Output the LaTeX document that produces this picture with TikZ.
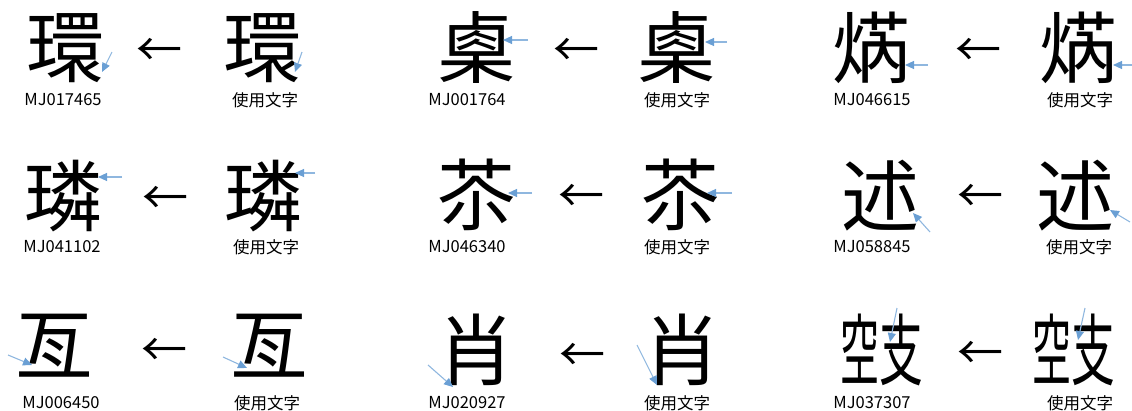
\documentclass[tikz,border=0pt]{standalone}
\usepackage{fontspec}
\setmainfont{Noto Sans CJK JP}
\usetikzlibrary{arrows.meta}
\definecolor{pointer}{HTML}{6A9FD4}

\begin{document}
\begin{tikzpicture}[x=1pt, y=-1pt]
\tikzstyle{every node} = [inner sep=0pt, outer sep=0pt]
\tikzset{moji/.style={font=\fontsize{78}{78}\selectfont},
  ya/.style={font=\fontsize{46}{46}\selectfont},
  code/.style={font=\fontsize{16.5}{16.5}\selectfont},
  pointer/.style={draw=pointer!75, line width=1.1pt, -{Triangle[length=9pt,width=8pt,color=pointer]}}}
\useasboundingbox (0,0) rectangle (1132,410);
% row 1
\node[moji] (a1) at (65,48) {環};
\node[ya] (b1) at (159,52) {←};
\node[moji] (c1) at (262,48) {環};
\node[code] (la1) at (63,100) {MJ017465};
\node[code] (lc1) at (265,100) {使用文字};
\node[moji] (a2) at (476,48) {㮚};
\node[ya] (b2) at (576,52) {←};
\node[moji] (c2) at (676,48) {㮚};
\node[code] (la2) at (467,100) {MJ001764};
\node[code] (lc2) at (677,100) {使用文字};
\node[moji] (a3) at (871,48) {焫};
\node[ya] (b3) at (978,52) {←};
\node[moji] (c3) at (1078,48) {焫};
\node[code] (la3) at (872,100) {MJ046615};
\node[code] (lc3) at (1080,100) {使用文字};
% row 2
\node[moji] (a4) at (63,196) {璘};
\node[ya] (b4) at (165,200) {←};
\node[moji] (c4) at (263,196) {璘};
\node[code] (la4) at (62,247) {MJ041102};
\node[code] (lc4) at (266,247) {使用文字};
\node[moji] (a5) at (476,195) {苶};
\node[ya] (b5) at (581,198) {←};
\node[moji] (c5) at (680,195) {苶};
\node[code] (la5) at (467,247) {MJ046340};
\node[code] (lc5) at (677,247) {使用文字};
\node[moji] (a6) at (880,196) {述};
\node[ya] (b6) at (980,198) {←};
\node[moji] (c6) at (1075,196) {述};
\node[code] (la6) at (872,247) {MJ058845};
\node[code] (lc6) at (1079,247) {使用文字};
% row 3
\node[moji] (a7) at (55,346) {亙};
\node[ya] (b7) at (164,352) {←};
\node[moji] (c7) at (269,346) {亙};
\node[code] (la7) at (61,403) {MJ006450};
\node[code] (lc7) at (267,403) {使用文字};
\node[moji] (a8) at (476,350) {肖};
\node[ya] (b8) at (582,357) {←};
\node[moji] (c8) at (682,350) {肖};
\node[code] (la8) at (467,403) {MJ020927};
\node[code] (lc8) at (677,403) {使用文字};
\node[moji] (a9) at (882,350) {\scalebox{.5}[1]{空}\scalebox{.56}[1]{支}};
\node[ya] (b9) at (980,355) {←};
\node[moji] (c9) at (1074,350) {\scalebox{.5}[1]{空}\scalebox{.56}[1]{支}};
\node[code] (la9) at (872,403) {MJ037307};
\node[code] (lc9) at (1080,403) {使用文字};
% blue pointers
\foreach \n/\sx/\sy/\ex/\ey in {1/112/52/102/72, 2/302/52/295/72, 3/528/40/503/40,
  4/727/42/705/42, 5/928/65/905/65, 6/1132/65/1113/65, 7/122/177/98/177,
  8/315/173/295/173, 9/532/193/508/193, 10/732/193/707/193, 11/930/232/913/213,
  12/1130/222/1110/210, 13/8/355/32/365, 14/223/357/247/368, 15/428/365/453/387,
  16/637/345/657/385, 17/897/308/890/342, 18/1085/308/1078/340}
{
\coordinate (from\n) at (\sx,\sy);
\coordinate (to\n) at (\ex,\ey);
\draw[pointer] (from\n) -- (to\n);
}
\end{tikzpicture}
\end{document}
